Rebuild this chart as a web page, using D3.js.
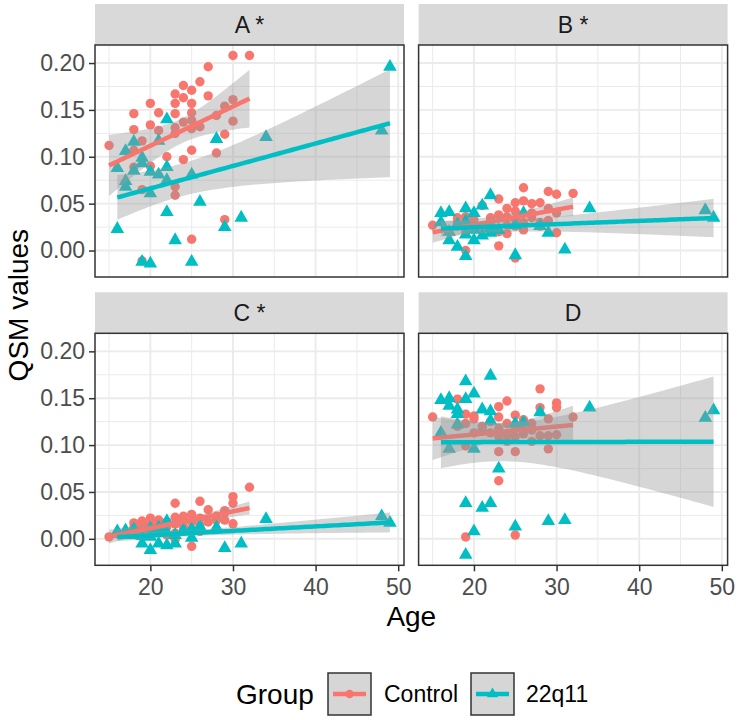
<!DOCTYPE html>
<html>
<head>
<meta charset="utf-8">
<style>
body { margin: 0; background: #fff; }
text { font-family: "Liberation Sans", Arial, sans-serif; }
</style>
</head>
<body>
<script src="https://cdn.jsdelivr.net/npm/d3@7"></script>
<script>

// panel names and group names
var panels = ["A *", "B *", "C *", "D"];
var groups = ["Control", "22q11"];
var colors = ["#F8766D", "#00BFC4"];

var xMajor = [20, 30, 40, 50],
    xMinor = [15, 25, 35, 45];
var yMajor = [0, 0.05, 0.10, 0.15, 0.20],
    yMinor = [0.025, 0.075, 0.125, 0.175];

// [age, value]
var ctrlA = [[30,.208],[32,.208],[27,.196],[26,.180],[24,.176],[25,.171],[23,.167],[24,.163],[27,.165],[25,.157],[20,.157],[23,.157],[30,.161],[29,.154],[18,.146],[21,.147],[23,.146],[25,.147],[28,.144],[30,.138],[24,.137],[25,.139],[20,.134],[18,.129],[21,.128],[23,.131],[25,.130],[26,.132],[23,.125],[29,.124],[19,.117],[15,.112],[18,.107],[25,.107],[28,.104],[22,.100],[24,.097],[18,.089],[20,.090],[19,.065],[23,.068],[23,.059],[29,.033],[25,.012],[19,-.011]];
var q22A = [[49,.196],[48,.128],[22,.140],[18,.116],[21,.117],[28,.119],[34,.121],[17,.106],[19,.099],[19,.093],[16,.088],[18,.085],[20,.084],[22,.089],[21,.081],[22,.075],[25,.081],[17,.074],[17,.068],[20,.061],[26,.052],[22,.041],[31,.035],[29,.025],[16,.023],[23,.011],[19,-.012],[20,-.014],[25,-.012]];

var ctrlB = [[26,.067],[29,.063],[30,.060],[32,.061],[23,.055],[25,.051],[26,.053],[27,.050],[28,.051],[24,.045],[21,.048],[23,.038],[30,.040],[18,.035],[20,.033],[19,.036],[24,.036],[25,.033],[29,.032],[28,.026],[15,.027],[18,.026],[22,.027],[24,.027],[21,.022],[19,.020],[23,.020],[30,.019],[25,.026],[26,.022],[23,.005],[19,.000],[25,-.008],[27,.040],[20,.026],[18,.030],[22,.031],[20,.024],[25,.042],[24,.018],[28,.030],[22,.035],[26,.030],[29,.045],[27,.035]];
var q22B = [[22,.059],[21,.048],[19,.045],[34,.045],[16,.040],[17,.041],[48,.043],[49,.035],[26,.040],[16,.030],[19,.031],[28,.026],[25,.027],[29,.019],[22,.019],[21,.016],[19,.017],[20,.011],[17,.011],[23,.022],[18,.004],[19,-.006],[25,-.005],[31,.001],[20,.040],[18,.028],[22,.024],[17,.020],[20,.022]];

var ctrlC = [[32,.055],[30,.045],[30,.038],[23,.038],[26,.040],[27,.031],[29,.028],[25,.026],[23,.023],[20,.022],[21,.020],[19,.019],[18,.017],[24,.020],[28,.020],[29,.020],[30,.016],[23,.016],[24,.013],[22,.013],[20,.011],[19,.010],[21,.008],[25,.010],[23,.006],[22,.004],[15,.002],[25,-.008],[26,.015],[23,-.001],[18,.012],[20,.016],[24,.024],[25,.018],[28,.024],[26,.022],[27,.018],[21,.014],[19,.013],[22,.018],[24,.008],[29,.030],[20,.006],[18,.005],[26,.008]];
var q22C = [[48,.024],[49,.017],[34,.021],[22,.019],[18,.010],[17,.009],[16,.008],[20,.011],[26,.013],[28,.012],[25,.010],[21,.006],[22,.007],[19,.003],[19,-.005],[21,-.005],[22,-.007],[23,-.005],[20,-.012],[25,.001],[29,-.010],[31,-.005],[18,.004],[20,.002],[24,.009],[23,.004],[17,.004],[21,.012],[16,.005]];

var ctrlD = [[28,.160],[30,.145],[30,.140],[24,.147],[23,.141],[18,.149],[28,.140],[15,.130],[19,.133],[20,.131],[23,.130],[25,.132],[32,.130],[29,.128],[24,.123],[26,.127],[27,.123],[21,.117],[19,.123],[20,.113],[23,.118],[25,.118],[26,.116],[27,.116],[22,.113],[23,.109],[24,.111],[25,.109],[30,.111],[19,.099],[23,.093],[25,.093],[29,.096],[23,.062],[19,.002],[25,.004],[18,.120],[21,.120],[22,.125],[26,.112],[28,.110],[20,.128],[24,.104],[27,.104],[29,.110]];
var q22D = [[22,.174],[19,.168],[20,.155],[16,.148],[17,.150],[19,.149],[17,.142],[18,.138],[21,.138],[22,.136],[34,.140],[28,.135],[49,.137],[48,.129],[18,.133],[22,.126],[25,.123],[26,.124],[18,.122],[16,.113],[17,.096],[20,.096],[23,.075],[19,.038],[22,.038],[21,.033],[20,.008],[25,.013],[29,.019],[31,.020],[19,-.017]];

var panelData = [[ctrlA, q22A], [ctrlB, q22B], [ctrlC, q22C], [ctrlD, q22D]];

var width = 738, height = 720;
var colX = [95, 418.6], rowY = [45, 333.3];
var pw = 309, ph = 232, stripH = 41;

var svg = d3.select("body").append("svg")
    .attr("width", width)
    .attr("height", height);

// shared scales, 5% expansion like ggplot
var all = d3.merge(panelData.map(function(p) { return d3.merge(p); }));
var xe = d3.extent(all, function(d) { return d[0]; }),
    ye = d3.extent(all, function(d) { return d[1]; });
var xr = xe[1] - xe[0], yr = ye[1] - ye[0];
var x = d3.scaleLinear().domain([xe[0] - 0.05 * xr, xe[1] + 0.05 * xr]).range([0, pw]);
var y = d3.scaleLinear().domain([ye[0] - 0.05 * yr, ye[1] + 0.05 * yr]).range([ph, 0]);

function qt975(df) {
  var z = 1.959964;
  return z + (z*z*z + z) / (4*df) + (5*Math.pow(z,5) + 16*z*z*z + 3*z) / (96*df*df)
    + (3*Math.pow(z,7) + 19*Math.pow(z,5) + 17*z*z*z - 15*z) / (384*df*df*df);
}

// lm fit with 95% band, as geom_smooth(method = "lm")
function lmBand(pts) {
  var n = pts.length,
      mx = d3.mean(pts, function(d) { return d[0]; }),
      my = d3.mean(pts, function(d) { return d[1]; });
  var sxx = d3.sum(pts, function(d) { return (d[0]-mx)*(d[0]-mx); }),
      sxy = d3.sum(pts, function(d) { return (d[0]-mx)*(d[1]-my); });
  var b = sxy / sxx, a = my - b * mx;
  var s = Math.sqrt(d3.sum(pts, function(d) { var r = d[1] - a - b*d[0]; return r*r; }) / (n - 2));
  var t = qt975(n - 2);
  var ext = d3.extent(pts, function(d) { return d[0]; });
  return d3.range(80).map(function(i) {
    var xv = ext[0] + (ext[1] - ext[0]) * i / 79,
        fit = a + b * xv,
        se = s * Math.sqrt(1/n + (xv-mx)*(xv-mx)/sxx);
    return {x: xv, y: fit, lo: fit - t*se, hi: fit + t*se};
  });
}

var tri = d3.symbol().type(d3.symbolTriangle).size(80);

panels.forEach(function(name, i) {
  var col = i % 2, row = Math.floor(i / 2);
  var g = svg.append("g")
      .attr("transform", "translate(" + colX[col] + "," + rowY[row] + ")");

  // strip
  g.append("rect")
      .attr("x", 0).attr("y", -stripH)
      .attr("width", pw).attr("height", stripH)
      .attr("fill", "#D9D9D9");
  g.append("text")
      .attr("x", pw / 2).attr("y", -stripH / 2)
      .attr("dy", "0.36em")
      .attr("text-anchor", "middle")
      .attr("font-size", 23)
      .attr("fill", "#1A1A1A")
      .text(name);

  g.append("clipPath").attr("id", "clip" + i)
    .append("rect").attr("width", pw).attr("height", ph);

  // grid
  g.selectAll(".xminor").data(xMinor).enter().append("line")
      .attr("x1", x).attr("x2", x).attr("y1", 0).attr("y2", ph)
      .attr("stroke", "#EBEBEB").attr("stroke-width", 1);
  g.selectAll(".yminor").data(yMinor).enter().append("line")
      .attr("y1", y).attr("y2", y).attr("x1", 0).attr("x2", pw)
      .attr("stroke", "#EBEBEB").attr("stroke-width", 1);
  g.selectAll(".xmajor").data(xMajor).enter().append("line")
      .attr("x1", x).attr("x2", x).attr("y1", 0).attr("y2", ph)
      .attr("stroke", "#EBEBEB").attr("stroke-width", 1.9);
  g.selectAll(".ymajor").data(yMajor).enter().append("line")
      .attr("y1", y).attr("y2", y).attr("x1", 0).attr("x2", pw)
      .attr("stroke", "#EBEBEB").attr("stroke-width", 1.9);

  var plot = g.append("g").attr("clip-path", "url(#clip" + i + ")");

  // points
  plot.selectAll(".ctrl").data(panelData[i][0]).enter().append("circle")
      .attr("cx", function(d) { return x(d[0]); })
      .attr("cy", function(d) { return y(d[1]); })
      .attr("r", 4.7)
      .attr("fill", colors[0]);
  plot.selectAll(".q22").data(panelData[i][1]).enter().append("path")
      .attr("d", tri)
      .attr("transform", function(d) { return "translate(" + x(d[0]) + "," + y(d[1]) + ")"; })
      .attr("fill", colors[1]);

  // smooth: ribbon then line, per group
  panelData[i].forEach(function(pts, k) {
    var band = lmBand(pts);
    plot.append("path")
        .datum(band)
        .attr("d", d3.area()
          .x(function(d) { return x(d.x); })
          .y0(function(d) { return y(d.lo); })
          .y1(function(d) { return y(d.hi); }))
        .attr("fill", "#999999")
        .attr("fill-opacity", 0.4);
    plot.append("path")
        .datum(band)
        .attr("d", d3.line()
          .x(function(d) { return x(d.x); })
          .y(function(d) { return y(d.y); }))
        .attr("fill", "none")
        .attr("stroke", colors[k])
        .attr("stroke-width", 4.5);
  });

  // border
  g.append("rect")
      .attr("width", pw).attr("height", ph)
      .attr("fill", "none")
      .attr("stroke", "#333333")
      .attr("stroke-width", 1.5);

  if (col === 0) {
    var ya = g.append("g")
        .call(d3.axisLeft(y).tickValues(yMajor).tickSize(6).tickPadding(4).tickFormat(d3.format(".2f")));
    ya.select(".domain").remove();
    ya.selectAll("line").attr("stroke", "#333333").attr("stroke-width", 1.5);
    ya.selectAll("text").attr("font-size", 23).attr("fill", "#4D4D4D")
        .attr("font-family", "Liberation Sans, Arial, sans-serif");
  }
  if (row === 1) {
    var xa = g.append("g")
        .attr("transform", "translate(0," + ph + ")")
        .call(d3.axisBottom(x).tickValues(xMajor).tickSize(6).tickPadding(7));
    xa.select(".domain").remove();
    xa.selectAll("line").attr("stroke", "#333333").attr("stroke-width", 1.5);
    xa.selectAll("text").attr("font-size", 23).attr("fill", "#4D4D4D")
        .attr("font-family", "Liberation Sans, Arial, sans-serif");
  }
});

// axis titles
svg.append("text")
    .attr("x", colX[0] + (colX[1] + pw - colX[0]) / 2)
    .attr("y", 626)
    .attr("text-anchor", "middle")
    .attr("font-size", 28)
    .text("Age");

svg.append("text")
    .attr("transform", "translate(28," + (rowY[0] + (rowY[1] + ph - rowY[0]) / 2) + ")rotate(-90)")
    .attr("text-anchor", "middle")
    .attr("font-size", 28)
    .text("QSM values");

// legend
var leg = svg.append("g").attr("transform", "translate(0,694)");
leg.append("text")
    .attr("x", 236).attr("dy", "0.36em")
    .attr("font-size", 28)
    .text("Group");

var keyX = [328, 471], labX = [384, 526];
groups.forEach(function(gname, k) {
  var kg = leg.append("g").attr("transform", "translate(" + keyX[k] + ",-21)");
  kg.append("rect")
      .attr("width", 43).attr("height", 42)
      .attr("fill", "#D6D6D6")
      .attr("stroke", "#333333")
      .attr("stroke-width", 1.5);
  kg.append("line")
      .attr("x1", 5).attr("x2", 38).attr("y1", 21).attr("y2", 21)
      .attr("stroke", colors[k]).attr("stroke-width", 4.5);
  if (k === 0) {
    kg.append("circle").attr("cx", 21.5).attr("cy", 21).attr("r", 4.2).attr("fill", colors[k]);
  } else {
    kg.append("path").attr("d", d3.symbol().type(d3.symbolTriangle).size(55))
        .attr("transform", "translate(21.5,21)").attr("fill", colors[k]);
  }
  leg.append("text")
      .attr("x", labX[k]).attr("dy", "0.36em")
      .attr("font-size", 23)
      .text(gname);
});

</script>
</body>
</html>
